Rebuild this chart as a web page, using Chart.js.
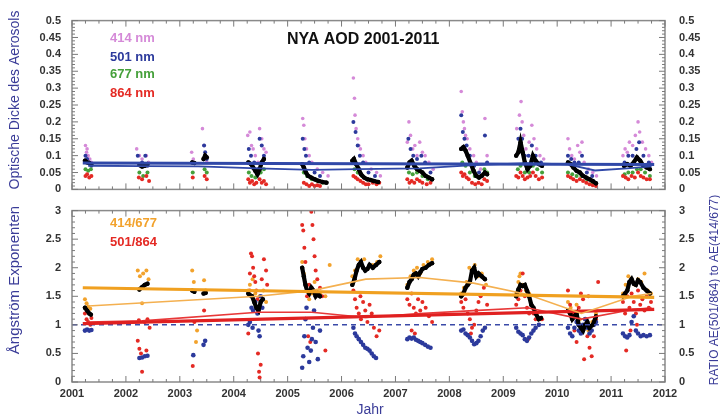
<!DOCTYPE html>
<html><head><meta charset="utf-8">
<script src="https://cdn.jsdelivr.net/npm/chart.js@4"></script>
<style>
body{margin:0;background:#fff;width:720px;height:418px;position:relative;overflow:hidden}
canvas{position:absolute;left:0}
</style></head>
<body>
<canvas id="cTop" width="720" height="210" style="top:0"></canvas>
<canvas id="cBot" width="720" height="228" style="top:190px"></canvas>
<script>
// ---------- DATA (x = decimal year, y = value) ----------
const xTicks = [2001,2002,2003,2004,2005,2006,2007,2008,2009,2010,2011,2012];
const aodTicks = [0,0.05,0.1,0.15,0.2,0.25,0.3,0.35,0.4,0.45,0.5];
const aeTicks = [0,0.5,1,1.5,2,2.5,3];

const aod414 = [[2001.25,.13],[2001.27,.11],[2001.3,.1],[2001.33,.09],[2001.36,.08],[2001.28,.12],
[2002.2,.12],[2002.25,.1],[2002.3,.09],[2002.38,.1],[2002.42,.08],[2002.35,.07],
[2003.22,.11],[2003.25,.09],[2003.42,.18],[2003.45,.13],[2003.48,.1],[2003.5,.08],
[2004.26,.16],[2004.3,.17],[2004.33,.13],[2004.36,.12],[2004.4,.1],[2004.48,.18],[2004.52,.15],[2004.56,.12],[2004.6,.11],[2004.45,.08],
[2005.28,.21],[2005.3,.19],[2005.32,.15],[2005.35,.12],[2005.4,.1],[2005.45,.08],[2005.55,.06],[2005.65,.05],[2005.75,.04],
[2006.22,.33],[2006.24,.27],[2006.25,.22],[2006.27,.18],[2006.3,.15],[2006.32,.13],[2006.35,.12],[2006.4,.1],[2006.45,.08],[2006.55,.06],[2006.65,.05],[2006.72,.04],
[2007.22,.14],[2007.25,.2],[2007.28,.16],[2007.32,.12],[2007.36,.13],[2007.4,.1],[2007.45,.14],[2007.5,.11],[2007.55,.1],[2007.62,.08],[2007.7,.06],
[2008.22,.29],[2008.24,.23],[2008.26,.2],[2008.28,.18],[2008.3,.16],[2008.33,.15],[2008.38,.12],[2008.45,.1],[2008.5,.08],[2008.58,.06],[2008.66,.21],[2008.7,.1],
[2009.25,.18],[2009.3,.22],[2009.33,.26],[2009.35,.2],[2009.38,.16],[2009.42,.12],[2009.48,.14],[2009.53,.19],[2009.57,.15],[2009.62,.12],[2009.68,.1],[2009.75,.09],
[2010.2,.15],[2010.23,.12],[2010.27,.1],[2010.32,.09],[2010.38,.13],[2010.42,.11],[2010.46,.14],[2010.5,.08],[2010.58,.06],[2010.66,.05],[2010.73,.04],
[2011.22,.1],[2011.26,.12],[2011.3,.11],[2011.34,.14],[2011.4,.13],[2011.45,.16],[2011.5,.2],[2011.53,.17],[2011.58,.14],[2011.64,.12],[2011.7,.1],[2011.75,.08]];

const aod501 = [[2001.25,.1],[2001.28,.09],[2001.32,.08],[2001.36,.07],
[2002.22,.1],[2002.3,.08],[2002.4,.07],[2002.36,.1],
[2003.23,.08],[2003.45,.13],[2003.47,.11],[2003.5,.09],
[2004.28,.12],[2004.32,.1],[2004.38,.08],[2004.48,.15],[2004.52,.13],[2004.56,.1],[2004.45,.06],
[2005.28,.15],[2005.31,.12],[2005.34,.1],[2005.4,.08],[2005.5,.05],[2005.6,.04],
[2006.22,.2],[2006.26,.17],[2006.3,.13],[2006.34,.1],[2006.4,.08],[2006.5,.05],[2006.62,.04],
[2007.24,.15],[2007.28,.12],[2007.33,.1],[2007.4,.09],[2007.48,.1],[2007.55,.08],[2007.65,.05],
[2008.22,.22],[2008.25,.17],[2008.28,.15],[2008.32,.13],[2008.38,.1],[2008.46,.07],[2008.55,.05],[2008.66,.16],[2008.7,.08],
[2009.28,.15],[2009.32,.18],[2009.35,.15],[2009.4,.1],[2009.47,.1],[2009.53,.13],[2009.6,.1],[2009.7,.08],
[2010.2,.1],[2010.26,.09],[2010.32,.08],[2010.4,.08],[2010.46,.1],[2010.55,.05],[2010.65,.04],
[2011.25,.08],[2011.32,.1],[2011.4,.1],[2011.47,.12],[2011.52,.14],[2011.6,.1],[2011.7,.08]];

const aod677 = [[2001.25,.06],[2001.3,.055],[2001.35,.06],
[2002.25,.05],[2002.32,.04],[2002.4,.05],
[2003.24,.05],[2003.46,.06],[2003.5,.05],
[2004.28,.05],[2004.33,.04],[2004.4,.035],[2004.5,.05],[2004.56,.06],
[2005.3,.05],[2005.36,.04],[2005.45,.03],[2005.55,.025],[2005.65,.02],
[2006.24,.06],[2006.3,.05],[2006.38,.04],[2006.48,.03],[2006.6,.025],
[2007.25,.05],[2007.32,.045],[2007.4,.05],[2007.5,.04],[2007.6,.03],[2007.68,.03],
[2008.24,.08],[2008.3,.07],[2008.38,.05],[2008.47,.04],[2008.55,.035],[2008.65,.06],[2008.7,.05],
[2009.27,.06],[2009.32,.07],[2009.4,.05],[2009.48,.05],[2009.55,.07],[2009.63,.06],[2009.72,.05],
[2010.2,.05],[2010.28,.045],[2010.36,.04],[2010.45,.04],[2010.55,.03],[2010.65,.02],
[2011.25,.045],[2011.32,.05],[2011.4,.05],[2011.48,.06],[2011.55,.06],[2011.63,.05],[2011.72,.04]];

const aod864 = [[2001.25,.04],[2001.28,.045],[2001.32,.035],[2001.36,.04],
[2002.24,.035],[2002.3,.03],[2002.38,.04],[2002.43,.025],
[2003.24,.035],[2003.46,.04],[2003.5,.03],
[2004.27,.03],[2004.3,.02],[2004.34,.025],[2004.38,.015],[2004.42,.02],[2004.48,.03],[2004.52,.02],[2004.56,.025],[2004.6,.015],
[2005.3,.02],[2005.35,.015],[2005.4,.01],[2005.45,.015],[2005.5,.01],[2005.55,.012],[2005.6,.01],
[2006.22,.04],[2006.26,.035],[2006.3,.03],[2006.35,.025],[2006.4,.02],[2006.45,.015],[2006.5,.015],[2006.58,.02],[2006.65,.015],[2006.7,.02],
[2007.22,.03],[2007.26,.02],[2007.3,.025],[2007.35,.02],[2007.4,.03],[2007.45,.025],[2007.5,.02],[2007.58,.015],[2007.65,.02],
[2008.22,.05],[2008.25,.04],[2008.28,.045],[2008.32,.035],[2008.36,.03],[2008.42,.02],[2008.48,.015],[2008.54,.02],[2008.6,.015],[2008.65,.03],[2008.7,.025],
[2009.24,.04],[2009.28,.035],[2009.32,.05],[2009.36,.04],[2009.4,.03],[2009.45,.035],[2009.5,.04],[2009.55,.05],[2009.6,.04],[2009.66,.03],[2009.72,.035],
[2010.2,.04],[2010.25,.035],[2010.3,.03],[2010.36,.025],[2010.42,.03],[2010.48,.025],[2010.54,.02],[2010.6,.015],[2010.66,.012],[2010.72,.01],
[2011.22,.04],[2011.27,.035],[2011.32,.03],[2011.38,.04],[2011.44,.035],[2011.5,.05],[2011.55,.04],[2011.6,.035],[2011.66,.03],[2011.72,.03]];

const aodMean = [[2001.24,.085],[2001.28,.08],[2001.32,.078],[2001.36,.075],
[2002.25,.072],[2002.3,.068],[2002.35,.07],[2002.4,.075],
[2003.23,.08],[2003.27,.078],[2003.44,.09],[2003.47,.1],[2003.5,.095],
[2004.27,.08],[2004.32,.075],[2004.36,.065],[2004.4,.055],[2004.44,.045],[2004.48,.06],[2004.52,.08],[2004.56,.09],
[2005.27,.075],[2005.3,.065],[2005.34,.05],[2005.38,.04],[2005.44,.035],[2005.5,.03],[2005.58,.025],[2005.65,.022],[2005.72,.02],
[2006.2,.085],[2006.23,.09],[2006.27,.075],[2006.32,.06],[2006.36,.045],[2006.42,.035],[2006.48,.03],[2006.54,.028],[2006.6,.025],[2006.68,.022],
[2007.22,.065],[2007.26,.08],[2007.3,.085],[2007.35,.07],[2007.4,.06],[2007.45,.055],[2007.5,.05],[2007.56,.04],[2007.62,.035],[2007.68,.03],
[2008.22,.12],[2008.26,.125],[2008.3,.115],[2008.34,.1],[2008.4,.075],[2008.45,.055],[2008.5,.04],[2008.55,.035],[2008.6,.04],[2008.66,.05],[2008.7,.045],
[2009.24,.1],[2009.28,.11],[2009.32,.14],[2009.36,.11],[2009.4,.08],[2009.45,.06],[2009.5,.07],[2009.55,.1],[2009.6,.085],[2009.66,.075],[2009.72,.07],
[2010.2,.08],[2010.25,.075],[2010.3,.065],[2010.36,.055],[2010.42,.05],[2010.48,.04],[2010.54,.035],[2010.6,.03],[2010.66,.025],[2010.72,.018],
[2011.24,.07],[2011.3,.075],[2011.36,.07],[2011.42,.08],[2011.48,.095],[2011.54,.085],[2011.6,.07],[2011.66,.065],[2011.72,.06]];

const aodTrend = [[2001.2,.078],[2011.8,.074]];
const aodSeasonTrend = [[2001.3,.07],[2002.3,.069],[2003.35,.068],[2004.45,.062],[2005.45,.058],[2006.3,.06],[2007.45,.062],[2008.45,.072],[2009.45,.078],[2010.2,.074],[2010.7,.056],[2011.3,.062],[2011.75,.068]];

const ae414677 = [[2001.24,1.45],[2001.27,1.38],[2001.3,1.32],[2001.34,1.28],
[2002.22,1.95],[2002.26,1.85],[2002.32,1.9],[2002.38,1.95],[2002.42,1.8],[2002.3,1.38],
[2003.23,1.95],[2003.26,1.75],[2003.3,0.7],[2003.45,1.78],[2003.48,1.6],[2003.32,0.9],
[2004.27,1.6],[2004.3,1.7],[2004.35,1.8],[2004.4,1.55],[2004.48,1.5],[2004.55,1.6],[2004.6,1.4],
[2005.27,2.1],[2005.3,1.9],[2005.35,1.7],[2005.4,1.45],[2005.45,1.55],[2005.5,1.75],[2005.6,1.55],[2005.7,1.5],[2005.78,2.05],
[2006.2,1.85],[2006.25,1.95],[2006.3,2.15],[2006.36,2.1],[2006.42,2.15],[2006.5,2.0],[2006.58,2.05],[2006.66,2.1],[2006.72,2.2],
[2007.22,1.7],[2007.28,1.85],[2007.34,1.95],[2007.4,2.0],[2007.46,1.9],[2007.52,2.05],[2007.6,2.1],[2007.68,2.15],
[2008.22,1.55],[2008.27,1.65],[2008.32,1.75],[2008.37,2.0],[2008.42,1.95],[2008.47,2.05],[2008.53,1.85],[2008.6,1.9],[2008.68,1.7],
[2009.24,1.55],[2009.28,1.75],[2009.32,1.9],[2009.36,1.7],[2009.42,1.6],[2009.48,1.55],[2009.55,1.3],[2009.62,1.2],[2009.7,1.1],[2009.3,1.85],
[2010.2,1.4],[2010.25,1.3],[2010.3,1.2],[2010.36,1.35],[2010.42,1.1],[2010.5,1.0],[2010.58,0.9],[2010.65,1.05],[2010.72,1.2],
[2011.22,1.55],[2011.27,1.7],[2011.32,1.85],[2011.38,1.8],[2011.44,1.7],[2011.5,1.8],[2011.56,1.75],[2011.62,1.9],[2011.68,1.6],[2011.74,1.55]];

const ae501864 = [[2001.24,1.2],[2001.27,1.1],[2001.3,1.05],[2001.34,1.0],[2001.36,1.12],
[2002.22,0.72],[2002.25,0.58],[2002.28,0.5],[2002.3,0.18],[2002.35,1.05],[2002.4,1.1],[2002.44,0.95],[2002.38,0.55],[2002.24,1.08],
[2003.24,0.28],[2003.45,1.25],[2003.27,1.05],
[2004.27,0.85],[2004.3,1.9],[2004.32,2.25],[2004.34,2.2],[2004.36,2.0],[2004.38,1.85],[2004.4,1.75],[2004.42,1.6],[2004.45,0.5],[2004.47,0.18],[2004.48,0.08],[2004.5,0.3],[2004.52,1.8],[2004.56,2.15],[2004.6,1.95],[2004.62,1.7],[2004.3,1.6],[2004.44,1.45],
[2005.27,2.75],[2005.29,2.65],[2005.31,2.35],[2005.33,2.1],[2005.36,1.5],[2005.38,0.8],[2005.42,0.7],[2005.44,2.98],[2005.46,2.75],[2005.48,2.5],[2005.5,2.2],[2005.52,1.95],[2005.55,1.8],[2005.6,1.65],[2005.64,1.5],[2005.7,0.55],[2005.4,1.7],
[2006.22,1.6],[2006.25,1.45],[2006.28,1.3],[2006.32,1.2],[2006.36,1.1],[2006.4,1.4],[2006.44,1.25],[2006.48,1.05],[2006.52,1.35],[2006.56,1.2],[2006.6,0.95],[2006.65,0.8],[2006.7,0.9],[2006.35,1.5],
[2007.22,1.45],[2007.26,1.35],[2007.3,1.55],[2007.34,1.3],[2007.38,1.2],[2007.42,1.45],[2007.46,1.25],[2007.5,1.4],[2007.56,1.3],[2007.62,1.15],[2007.68,1.05],[2007.3,0.9],[2007.36,0.85],
[2008.22,1.4],[2008.26,1.3],[2008.3,1.45],[2008.34,1.2],[2008.38,1.1],[2008.42,0.95],[2008.46,1.0],[2008.5,1.25],[2008.54,1.4],[2008.58,1.5],[2008.64,1.65],[2008.7,1.35],[2008.4,0.85],
[2009.24,1.35],[2009.28,1.45],[2009.32,1.6],[2009.36,1.9],[2009.4,1.5],[2009.44,1.3],[2009.48,1.2],[2009.52,1.35],[2009.56,1.2],[2009.6,1.1],[2009.66,1.0],[2009.72,1.1],[2009.46,0.75],
[2010.2,1.6],[2010.24,1.35],[2010.28,1.2],[2010.32,0.9],[2010.36,0.7],[2010.4,1.3],[2010.44,1.55],[2010.48,1.45],[2010.52,1.1],[2010.56,0.8],[2010.6,0.6],[2010.64,0.45],[2010.68,0.8],[2010.72,1.1],[2010.76,1.75],[2010.5,0.4],[2010.58,1.5],
[2011.22,1.4],[2011.26,1.2],[2011.28,0.55],[2011.3,1.5],[2011.34,1.3],[2011.38,1.55],[2011.42,1.4],[2011.46,1.2],[2011.5,1.6],[2011.54,1.35],[2011.58,1.45],[2011.62,1.25],[2011.66,1.5],[2011.7,1.3],[2011.74,1.4],[2011.36,0.9],[2011.48,1.0]];

const aeRatio = [[2001.24,0.9],[2001.28,0.92],[2001.32,0.9],[2001.36,0.91],
[2002.25,0.42],[2002.3,0.43],[2002.35,0.45],[2002.4,0.46],
[2003.25,0.47],[2003.44,0.65],[2003.47,0.72],
[2004.27,1.0],[2004.3,1.05],[2004.33,1.3],[2004.36,1.25],[2004.4,1.4],[2004.44,1.2],[2004.46,0.9],[2004.48,0.8],[2004.5,1.5],[2004.53,1.3],[2004.35,0.95],
[2005.27,0.25],[2005.29,0.45],[2005.31,0.8],[2005.33,1.1],[2005.35,1.3],[2005.37,0.6],[2005.4,0.35],[2005.43,0.55],[2005.45,0.75],[2005.47,0.95],[2005.49,1.25],[2005.52,0.7],[2005.56,0.4],[2005.6,0.9],
[2006.22,0.95],[2006.25,0.85],[2006.28,0.8],[2006.32,0.75],[2006.36,0.7],[2006.4,0.65],[2006.44,0.6],[2006.48,0.58],[2006.52,0.55],[2006.56,0.5],[2006.6,0.45],[2006.64,0.42],
[2007.22,0.75],[2007.26,0.78],[2007.3,0.76],[2007.34,0.78],[2007.38,0.74],[2007.42,0.72],[2007.46,0.7],[2007.5,0.68],[2007.55,0.65],[2007.6,0.62],[2007.65,0.6],
[2008.22,0.9],[2008.26,0.92],[2008.3,0.85],[2008.34,0.82],[2008.38,0.78],[2008.42,0.72],[2008.46,0.66],[2008.5,0.68],[2008.54,0.72],[2008.58,0.8],[2008.62,0.9],[2008.66,0.95],
[2009.24,0.95],[2009.28,0.88],[2009.32,0.85],[2009.36,0.82],[2009.4,0.75],[2009.44,0.72],[2009.48,0.78],[2009.52,0.85],[2009.56,0.9],[2009.6,0.95],[2009.66,1.0],
[2010.2,0.95],[2010.24,0.85],[2010.28,0.8],[2010.32,0.95],[2010.36,1.05],[2010.4,0.9],[2010.44,0.85],[2010.48,1.0],[2010.52,1.1],[2010.56,0.95],[2010.6,0.85],[2010.64,0.9],[2010.68,1.0],[2010.72,1.05],
[2011.22,0.85],[2011.26,0.8],[2011.3,0.78],[2011.34,0.82],[2011.38,1.05],[2011.42,1.15],[2011.46,0.9],[2011.5,0.85],[2011.55,0.8],[2011.6,0.82],[2011.66,0.8],[2011.72,0.82]];

const aeMean = [[2001.24,1.3],[2001.28,1.25],[2001.32,1.2],[2001.35,1.18],
[2002.25,1.62],[2002.3,1.66],[2002.35,1.7],[2002.4,1.72],
[2003.23,1.6],[2003.27,1.58],[2003.44,1.55],[2003.48,1.56],
[2004.27,1.55],[2004.3,1.52],[2004.34,1.5],[2004.38,1.4],[2004.42,1.3],[2004.46,1.25],[2004.5,1.4],[2004.54,1.45],
[2005.27,2.0],[2005.3,1.85],[2005.33,1.7],[2005.36,1.6],[2005.4,1.55],[2005.44,1.65],[2005.48,1.6],[2005.52,1.5],[2005.56,1.55],[2005.6,1.5],
[2006.2,1.7],[2006.24,1.8],[2006.28,1.95],[2006.32,2.05],[2006.36,2.1],[2006.4,2.0],[2006.44,1.95],[2006.48,1.98],[2006.52,2.05],[2006.58,2.0],[2006.64,2.05],[2006.7,2.1],
[2007.22,1.65],[2007.26,1.75],[2007.3,1.8],[2007.34,1.88],[2007.38,1.9],[2007.42,1.85],[2007.46,1.92],[2007.5,1.98],[2007.56,2.0],[2007.62,2.05],[2007.68,2.08],
[2008.22,1.5],[2008.26,1.55],[2008.3,1.65],[2008.34,1.7],[2008.38,1.75],[2008.42,1.95],[2008.46,2.0],[2008.5,1.85],[2008.54,1.9],[2008.6,1.85],[2008.66,1.8],
[2009.24,1.5],[2009.28,1.62],[2009.32,1.7],[2009.36,1.68],[2009.4,1.7],[2009.44,1.6],[2009.48,1.5],[2009.52,1.35],[2009.56,1.3],[2009.6,1.2],[2009.66,1.1],[2009.7,1.12],
[2010.2,1.25],[2010.24,1.2],[2010.28,1.1],[2010.32,1.15],[2010.36,1.2],[2010.4,1.0],[2010.44,0.95],[2010.48,0.9],[2010.52,1.0],[2010.56,1.05],[2010.6,0.95],[2010.66,1.0],[2010.72,1.15],
[2011.22,1.5],[2011.26,1.55],[2011.3,1.6],[2011.34,1.75],[2011.38,1.8],[2011.42,1.72],[2011.46,1.7],[2011.5,1.78],[2011.54,1.75],[2011.6,1.65],[2011.66,1.6],[2011.72,1.55]];

const ae414Trend = [[2001.2,1.65],[2011.8,1.48]];
const ae414Season = [[2001.3,1.33],[2004.45,1.5],[2005.45,1.6],[2006.45,1.8],[2007.45,1.83],[2008.45,1.73],[2009.45,1.53],[2010.45,1.2],[2011.4,1.5],[2011.75,1.55]];
const ae501Trend = [[2001.2,1.02],[2011.8,1.27]];
const ae501Season = [[2001.3,1.05],[2002.3,1.07],[2004.45,1.22],[2005.45,1.22],[2006.45,1.13],[2007.45,1.2],[2008.45,1.25],[2009.45,1.3],[2010.45,1.1],[2011.4,1.27],[2011.75,1.3]];
const ratioOne = [[2001,1],[2012,1]];

// ---------- helpers ----------
const P = a => a.map(p => ({x: p[0], y: p[1]}));
const FONT = 'Liberation Sans, Arial, sans-serif';
const tickFont = {family: FONT, size: 11, weight: 'bold'};
const TITLE_BLUE = '#3a3c98';
const C = {pink:'#d58ad8', blue:'#2c3a9c', green:'#45a03a', red:'#e42a24', orange:'#f2a22c', black:'#000'};

const pts = (label, data, color, r) => ({label, data: P(data), backgroundColor: color, borderColor: color,
  pointRadius: r, pointBorderWidth: 0, showLine: false});
const line = (label, data, color, w, extra) => Object.assign({label, data: P(data), borderColor: color,
  backgroundColor: color, borderWidth: w, pointRadius: 0, showLine: true, tension: 0}, extra || {});
const meanLine = (label, data) => ({label, data: P(data), borderColor: '#000', backgroundColor: '#000',
  borderWidth: 4.2, pointRadius: 2.2, pointBorderWidth: 0, showLine: true, borderCapStyle: 'round',
  segment: {borderColor: ctx => (ctx.p1.parsed.x - ctx.p0.parsed.x > 0.1 ? 'rgba(0,0,0,0)' : '#000')}});

// frame + inward ticks + texts
const decor = {
  id: 'decor',
  afterDatasetsDraw(chart, args, o) {
    const ctx = chart.ctx, a = chart.chartArea, xs = chart.scales.x, ys = chart.scales.y;
    ctx.save();
    ctx.strokeStyle = '#8a8a8a'; ctx.lineWidth = 1.5;
    ctx.strokeRect(a.left, a.top, a.right - a.left, a.bottom - a.top);
    ctx.lineWidth = 1; ctx.strokeStyle = '#7a7a7a';
    for (let i = 0; i <= 44; i++) {
      const v = 2001 + i * 0.25, px = xs.getPixelForValue(v), L = i % 4 === 0 ? 6 : 3;
      ctx.beginPath(); ctx.moveTo(px, a.bottom); ctx.lineTo(px, a.bottom - L);
      ctx.moveTo(px, a.top); ctx.lineTo(px, a.top + L); ctx.stroke();
    }
    const n = Math.round((o.ymax) / o.minor);
    for (let i = 0; i <= n; i++) {
      const v = i * o.minor, py = ys.getPixelForValue(v), L = i % o.every === 0 ? 6 : 3;
      ctx.beginPath(); ctx.moveTo(a.left, py); ctx.lineTo(a.left + L, py);
      ctx.moveTo(a.right, py); ctx.lineTo(a.right - L, py); ctx.stroke();
    }
    for (const t of o.texts) {
      ctx.save();
      ctx.fillStyle = t.color; ctx.font = t.font;
      ctx.textAlign = t.align || 'left'; ctx.textBaseline = 'middle';
      ctx.translate(t.x, t.y);
      if (t.rot) ctx.rotate(t.rot);
      ctx.fillText(t.t, 0, 0);
      ctx.restore();
    }
    ctx.restore();
  }
};

const yAxis = (min, max, step, pos, width, ticksArr) => ({
  type: 'linear', position: pos, min, max,
  afterBuildTicks: s => { s.ticks = ticksArr.map(v => ({value: v})); },
  grid: {display: false, drawTicks: false}, border: {display: false},
  ticks: {font: tickFont, color: '#333', padding: pos === 'left' ? 11 : 14,
    callback: v => String(+(+v).toFixed(2))},
  afterFit: s => { s.width = width; }
});

// ---------- TOP CHART ----------
new Chart(document.getElementById('cTop'), {
  type: 'scatter',
  data: {datasets: [
    line('501 nm trend', aodTrend, '#3048a8', 3),
    line('501 nm seasonal', aodSeasonTrend, '#3048a8', 1.8),
    meanLine('mean', aodMean),
    pts('864 nm', aod864, C.red, 2),
    pts('677 nm', aod677, C.green, 2),
    pts('501 nm', aod501, C.blue, 2),
    pts('414 nm', aod414, C.pink, 1.8)
  ]},
  options: {
    responsive: false, animation: false, devicePixelRatio: 1,
    layout: {padding: {top: 17, bottom: 15, left: 0, right: 0}},
    plugins: {legend: {display: false}, tooltip: {enabled: false},
      decor: {ymax: 0.5, minor: 0.01, every: 5, texts: [
        {t: 'NYA AOD 2001-2011', x: 287, y: 40, color: '#111', font: 'bold 16px ' + FONT},
        {t: '414 nm', x: 110, y: 38, color: C.pink, font: 'bold 13px ' + FONT},
        {t: '501 nm', x: 110, y: 57, color: C.blue, font: 'bold 13px ' + FONT},
        {t: '677 nm', x: 110, y: 74, color: C.green, font: 'bold 13px ' + FONT},
        {t: '864 nm', x: 110, y: 93, color: C.red, font: 'bold 13px ' + FONT},
        {t: 'Optische Dicke des Aerosols', x: 15, y: 100, rot: -Math.PI / 2, align: 'center', color: TITLE_BLUE, font: '14px ' + FONT}
      ]}},
    scales: {
      x: {type: 'linear', min: 2001, max: 2012, display: false},
      y: yAxis(0, 0.5, 0.05, 'left', 72, aodTicks),
      y2: yAxis(0, 0.5, 0.05, 'right', 55, aodTicks)
    }
  },
  plugins: [decor]
});

// ---------- BOTTOM CHART ----------
new Chart(document.getElementById('cBot'), {
  type: 'scatter',
  data: {datasets: [
    line('414/677 trend', ae414Trend, '#f0a020', 3.2),
    line('414/677 seasonal', ae414Season, '#f4b050', 1.6),
    line('501/864 trend', ae501Trend, '#e02020', 3.2),
    line('501/864 seasonal', ae501Season, '#e83838', 1.6),
    line('ratio = 1', ratioOne, '#3a4aa8', 1.5, {borderDash: [5, 4]}),
    meanLine('mean', aeMean),
    pts('ratio', aeRatio, C.blue, 2.3),
    pts('501/864', ae501864, C.red, 2),
    pts('414/677', ae414677, C.orange, 2)
  ]},
  options: {
    responsive: false, animation: false, devicePixelRatio: 1,
    layout: {padding: {top: 12, bottom: 0, left: 0, right: 0}},
    plugins: {legend: {display: false}, tooltip: {enabled: false},
      decor: {ymax: 3, minor: 0.1, every: 5, texts: [
        {t: '414/677', x: 110, y: 33, color: C.orange, font: 'bold 13px ' + FONT},
        {t: '501/864', x: 110, y: 52, color: C.red, font: 'bold 13px ' + FONT},
        {t: 'Ångström Exponenten', x: 15, y: 90, rot: -Math.PI / 2, align: 'center', color: TITLE_BLUE, font: '15px ' + FONT},
        {t: 'Jahr', x: 370, y: 220, align: 'center', color: TITLE_BLUE, font: '14px ' + FONT},
        {t: 'RATIO AE(501/864) to AE(414/677)', x: 715, y: 100, rot: -Math.PI / 2, align: 'center', color: TITLE_BLUE, font: '12px ' + FONT}
      ]}},
    scales: {
      x: {type: 'linear', min: 2001, max: 2012,
        afterBuildTicks: s => { s.ticks = xTicks.map(v => ({value: v})); },
        grid: {display: false, drawTicks: false}, border: {display: false},
        ticks: {font: tickFont, color: '#333', padding: 5, maxRotation: 0, autoSkip: false, callback: v => String(v)},
        afterFit: s => { s.height = 36; }},
      y: yAxis(0, 3, 0.5, 'left', 72, aeTicks),
      y2: yAxis(0, 3, 0.5, 'right', 55, aeTicks)
    }
  },
  plugins: [decor]
});
</script>
</body></html>
